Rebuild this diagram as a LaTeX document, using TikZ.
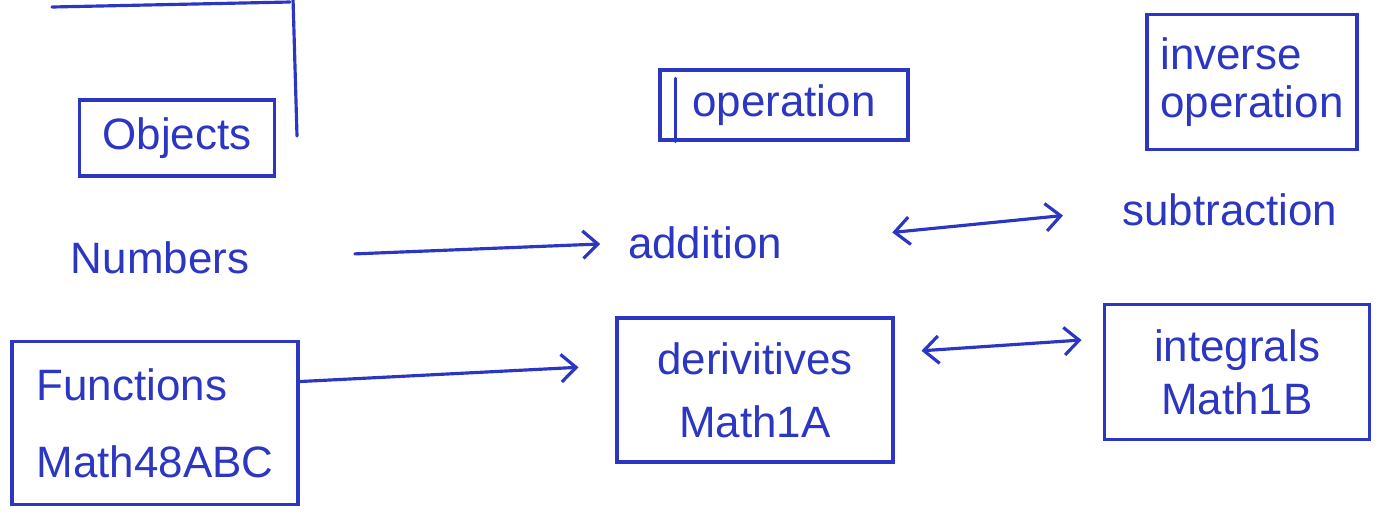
\documentclass[tikz,border=0pt]{standalone}
\usepackage{fontspec}
\setmainfont{Liberation Sans}
\usetikzlibrary{arrows.meta}
\definecolor{pen}{HTML}{2B36C2}
\tikzset{>={Straight Barb[length=3mm,width=5.5mm]},
  bx/.style={draw=pen,text=pen,line width=1.8pt,inner sep=4pt},
  lbl/.style={text=pen,inner sep=2pt},
  lnk/.style={draw=pen,line width=1.8pt,line cap=round}}
\begin{document}
\begin{tikzpicture}[x=0.02cm,y=-0.02cm,font=\fontsize{25}{30}\selectfont]
\path[fill=white,use as bounding box] (0,0) rectangle (1379,512);

% ================= leftover strokes, top left =================
\draw[lnk] (52,7) -- (290,2);
\draw[lnk] (293,-2) -- (297,136);

% ================= header boxes =================
\node[bx,minimum width=3.9cm,minimum height=1.52cm] (obj) at (177,138) {Objects};
\node[bx,minimum width=4.96cm,minimum height=1.4cm] (oper) at (784,105) {operation};
\draw[lnk] ([xshift=0.34cm,yshift=-0.2cm]oper.north west) -- ([xshift=0.34cm]oper.south west);
\node[bx,minimum width=4.2cm,minimum height=2.7cm,align=left] (inv) at (1252,82) {inverse\\[-3pt]operation};

% ================= middle row =================
\node[lbl] (num) at (160,258) {Numbers};
\node[lbl] (add) at (705,243) {addition};
\node[lbl] (sub) at (1230,210) {subtraction};
\draw[lnk,->,shorten <=2.04cm,shorten >=0.48cm] (num.east) -- (add.west);
\draw[lnk,<->,shorten <=2.14cm,shorten >=1.12cm] (add.east) -- (sub.west);

% ================= bottom row =================
\node[bx,minimum width=5.72cm,minimum height=3.26cm,align=left] (fun) at (155,423) {Functions\\[14pt]Math48ABC};
\node[bx,minimum width=5.52cm,minimum height=2.88cm,align=center] (der) at (755,390) {derivitives\\[6pt]Math1A};
\node[bx,minimum width=5.3cm,minimum height=2.7cm,align=center] (int) at (1237,372) {integrals\\Math1B};
\draw[lnk,->,shorten >=0.74cm] (fun.16) -- (der.170);
\draw[lnk,<->,shorten <=0.54cm,shorten >=0.43cm] (der.15) -- (int.166);

\end{tikzpicture}
\end{document}
